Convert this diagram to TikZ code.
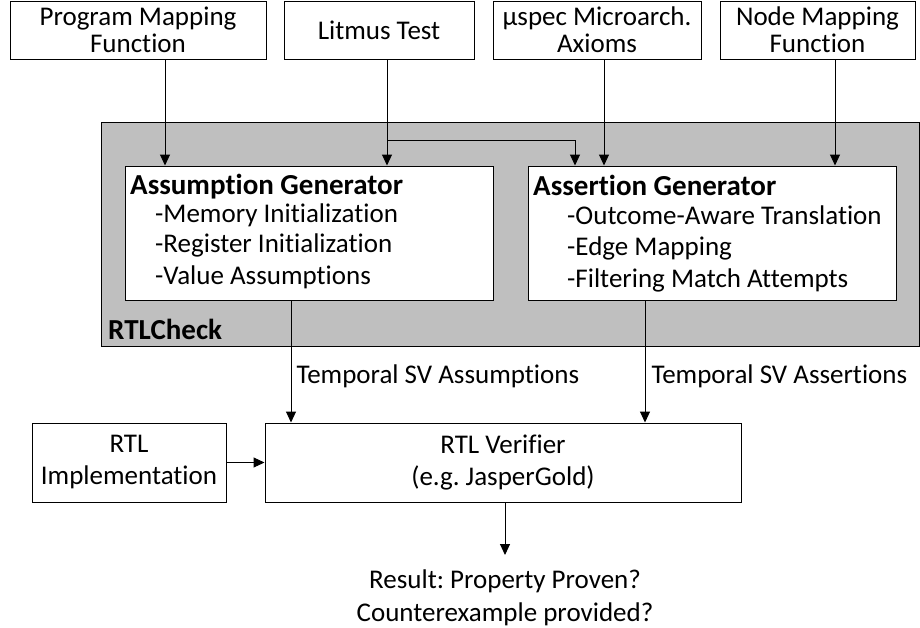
\documentclass[tikz,border=0pt]{standalone}
\usepackage{fontspec}
\setmainfont{Carlito}[Ligatures={NoCommon}]
\usetikzlibrary{arrows.meta,calc}
\begin{document}
\frenchspacing
\begin{tikzpicture}[x=1pt,y=-1pt,
  every node/.style={font=\fontsize{27}{27}\selectfont,inner sep=0pt},
  box/.style={draw=black,line width=1pt,fill=white},
  graybox/.style={draw=black,line width=1pt,fill=gray!50},
  heading/.style={font=\fontsize{29}{29}\selectfont\bfseries,anchor=base west},
  item/.style={anchor=base west},
  twoline/.style={align=center,font=\fontsize{27}{32}\selectfont},
  arr/.style={line width=1pt,-{Triangle[length=11pt,width=10pt]}}
]
\useasboundingbox (0,0) rectangle (920,627);

% inputs along the top
\node[box,minimum width=256,minimum height=58,align=center] (pmf) at (138,30) {Program Mapping\\Function};
\node[box,minimum width=190,minimum height=58] (litmus) at (379,30) {Litmus Test};
\node[box,minimum width=208,minimum height=58,align=center] (uspec) at (597,30) {µspec Microarch.\\Axioms};
\node[box,minimum width=195,minimum height=58,align=center] (nmf) at (817.5,30) {Node Mapping\\Function};

% RTLCheck container
\node[graybox,minimum width=818,minimum height=224] (rtlcheck) at (510,234) {};
\node[heading] (rtlchecklbl) at (108,339) {RTLCheck};

% generators
\node[box,minimum width=368,minimum height=134] (ag) at (309,233) {};
\node[heading] (agtitle) at (130,194) {Assumption Generator};
\node[item] (ag1) at (155,222) {-Memory Initialization};
\node[item] (ag2) at (155,252) {-Register Initialization};
\node[item] (ag3) at (155,284) {-Value Assumptions};

\node[box,minimum width=368,minimum height=134] (sg) at (712,233) {};
\node[heading] (sgtitle) at (533,195) {Assertion Generator};
\node[item] (sg1) at (567,224) {-Outcome-Aware Translation};
\node[item] (sg2) at (567,255) {-Edge Mapping};
\node[item] (sg3) at (567,287) {-Filtering Match Attempts};

% verification stage
\node[box,twoline,minimum width=194,minimum height=79] (impl) at (129,462.5) {RTL\\Implementation};
\node[box,twoline,minimum width=476,minimum height=79] (ver) at (503,462.5) {RTL Verifier\\(e.g. JasperGold)};
\node[twoline,font=\fontsize{27}{33}\selectfont] (result) at (505,598) {Result: Property Proven?\\Counterexample provided?};

% connectors from inputs
\coordinate (lt) at (387,140);
\draw[arr] (pmf.south -| 165,0) -- (ag.north -| 165,0);
\draw[arr] (litmus.south -| lt) -- (ag.north -| lt);
\draw[arr] (lt) -| (sg.north -| 575,0);
\draw[arr] (uspec.south -| 604,0) -- (sg.north -| 604,0);
\draw[arr] (nmf.south -| 835,0) -- (sg.north -| 835,0);

% outputs into the verifier
\draw[arr] (ag.south -| 291,0) -- (ver.north -| 291,0)
  node[pos=0.62,anchor=west,xshift=5pt] (tsva) {Temporal SV Assumptions};
\draw[arr] (sg.south -| 645,0) -- (ver.north -| 645,0)
  node[pos=0.62,anchor=west,xshift=6pt] (tsvs) {Temporal SV Assertions};
\draw[arr] (impl) -- (ver);
\draw[arr] (ver.south -| 505,0) -- (505,555);
\end{tikzpicture}
\end{document}
